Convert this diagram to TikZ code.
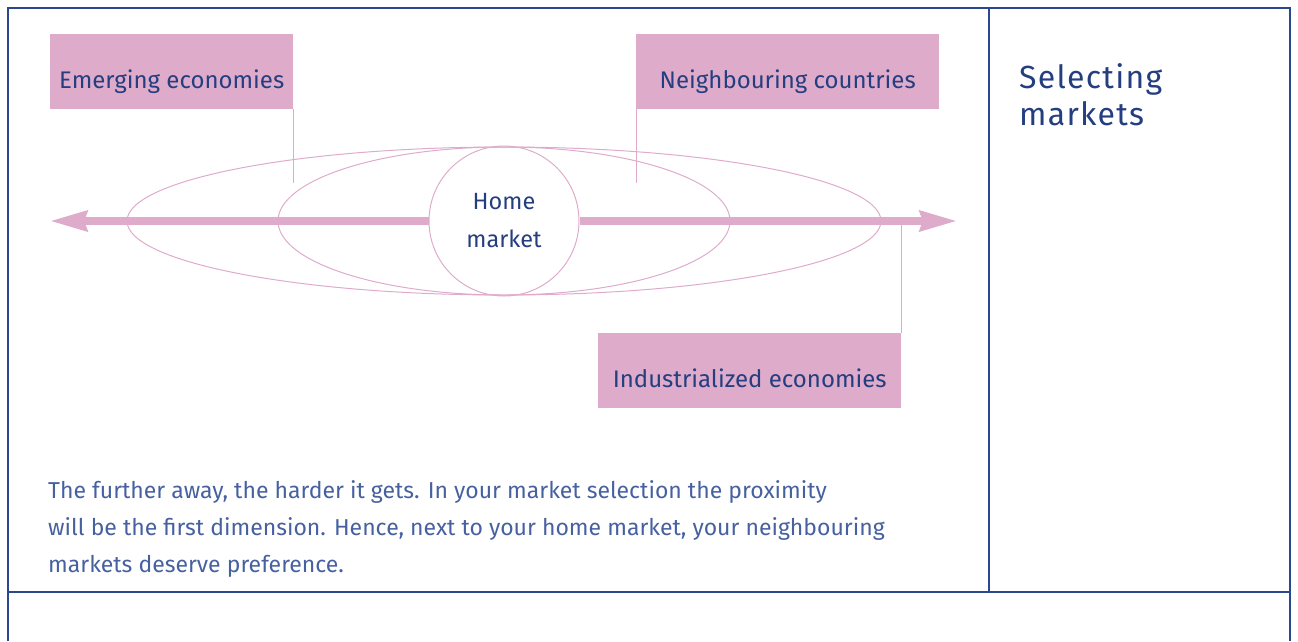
\documentclass[tikz,border=0pt]{standalone}
\usepackage{fontspec}
\setmainfont{Fira Sans}
\newfontfamily\titlefont[LetterSpace=4]{Fira Sans}
\usepackage{xcolor}
\usepackage{tikz}
\usetikzlibrary{arrows.meta,positioning,shapes,calc}
\definecolor{navy}{RGB}{36,62,128}
\definecolor{softblue}{RGB}{70,96,160}
\definecolor{rose}{RGB}{222,171,203}
\definecolor{frame}{RGB}{42,72,142}
\tikzset{
  tag/.style = {fill=rose, text=navy, inner sep=0pt, anchor=north west,
                text height=54pt, text depth=21pt, font=\fontsize{24}{28}\selectfont},
  ring/.style = {draw=rose, line width=1pt, ellipse, inner sep=0pt},
  leader/.style = {draw=rose, line width=1pt},
  axis/.style = {draw=rose, line width=7.5pt, -{Stealth[length=37pt, width=20pt, inset=3pt]}}
}

\begin{document}
\begin{tikzpicture}[x = 1pt, y = -1pt]
\useasboundingbox (0,0) rectangle (1298,641);
% frame
\draw[frame, line width=2.2pt] (8,641) -- (8,8) -- (1290,8) -- (1290,641);
\draw[frame, line width=2pt] (8,592) -- (1290,592);
\draw[frame, line width=1.2pt] (989,8) -- (989,592);

% markets
\node[circle, draw=rose, line width=1pt, minimum size=150pt, inner sep=0pt, text=navy, align=center,
  font=\fontsize{23.5}{38}\selectfont] (home) at (504,221) {Home\\market};
\coordinate (west) at (50,221);
\coordinate (east) at (957,221);
\draw[axis] (home.west) -- (west);
\draw[axis] (home.east) -- (east);
\node[ring, minimum width=452pt, minimum height=148pt] (near) at (504,221) {};
\node[ring, minimum width=754pt, minimum height=148pt] (far) at (504,221) {};

% labels
\node[tag, minimum width=243pt] (emerging) at (50,34) {Emerging economies};
\node[tag, minimum width=303pt] (neighbour) at (636,34) {Neighbouring countries};
\node[tag, minimum width=303pt] (industrial) at (598,333) {Industrialized economies};
\coordinate[below=74pt of emerging.south east] (e1);
\coordinate[below=74pt of neighbour.south west] (n1);
\coordinate[above=113pt of industrial.north east] (i1);
\draw[leader] (emerging.south east) -- (e1);
\draw[leader] (neighbour.south west) -- (n1);
\draw[leader] (industrial.north east) -- (i1);

% text
\node[anchor=base west, inner sep=0pt, text=navy, align=left,
  font=\titlefont\fontsize{32}{37}\selectfont] (title) at (1019,125) {Selecting\\markets};
\node[anchor=base west, inner sep=0pt, text=softblue, align=left,
  font=\fontsize{23}{37}\selectfont] (note) at (48,572)
  {The further away, the harder it gets. In your market selection the proximity\\
   will be the first dimension. Hence, next to your home market, your neighbouring\\
   markets deserve preference.};
\end{tikzpicture}
\end{document}
